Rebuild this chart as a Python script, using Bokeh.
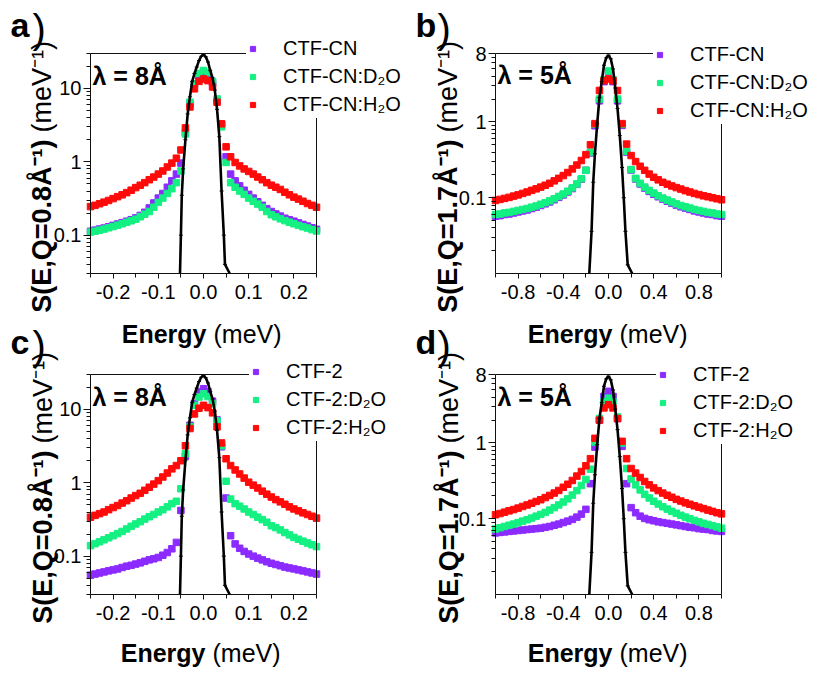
from math import pi, log10
from bokeh.plotting import figure
from bokeh.models import (Range1d, FixedTicker, LinearAxis, LogAxis, Label, Legend, LegendItem,
                          NumeralTickFormatter, BasicTickFormatter)
from bokeh.layouts import column, row
from bokeh.embed import file_html
from bokeh.resources import INLINE

FONT = "Liberation Sans"
PURPLE = "#8C2BFF"
GREEN = "#14F082"
RED = "#FF0A0A"

# ---------------- data ----------------
E_A = [-0.25, -0.24, -0.23, -0.22, -0.21, -0.20, -0.19, -0.18, -0.17, -0.16, -0.15, -0.14, -0.13,
       -0.12, -0.11, -0.10, -0.09, -0.08, -0.07, -0.06, -0.05, -0.04, -0.03, -0.02, -0.01, 0.00,
       0.01, 0.02, 0.03, 0.04, 0.05, 0.06, 0.07, 0.08, 0.09, 0.10, 0.11, 0.12, 0.13, 0.14, 0.15,
       0.16, 0.17, 0.18, 0.19, 0.20, 0.21, 0.22, 0.23, 0.24, 0.25]
E_B = [-1.00, -0.96, -0.92, -0.88, -0.84, -0.80, -0.76, -0.72, -0.68, -0.64, -0.60, -0.56, -0.52,
       -0.48, -0.44, -0.40, -0.36, -0.32, -0.28, -0.24, -0.20, -0.16, -0.12, -0.08, -0.04, 0.00,
       0.04, 0.08, 0.12, 0.16, 0.20, 0.24, 0.28, 0.32, 0.36, 0.40, 0.44, 0.48, 0.52, 0.56, 0.60,
       0.64, 0.68, 0.72, 0.76, 0.80, 0.84, 0.88, 0.92, 0.96, 1.00]

# panel a: CTF-CN, lambda = 8 A, Q = 0.8
CN_A = [0.113, 0.117, 0.121, 0.125, 0.130, 0.136, 0.142, 0.148, 0.155, 0.162, 0.172, 0.186, 0.205,
        0.235, 0.275, 0.32, 0.37, 0.45, 0.55, 0.68, 0.96, 2.5, 6.2, 11.6, 15.0, 16.7,
        15.5, 12.0, 6.8, 3.2, 1.17, 0.68, 0.55, 0.47, 0.41, 0.36, 0.32, 0.285, 0.255, 0.23, 0.21,
        0.195, 0.182, 0.17, 0.162, 0.155, 0.147, 0.14, 0.133, 0.126, 0.12]
CN_D2O_A = [0.110, 0.113, 0.117, 0.121, 0.126, 0.131, 0.137, 0.143, 0.150, 0.157, 0.165, 0.178, 0.193,
            0.21, 0.24, 0.28, 0.32, 0.37, 0.43, 0.52, 0.75, 2.4, 6.5, 11.5, 16.0, 17.6,
            16.5, 12.5, 7.2, 3.0, 0.98, 0.52, 0.45, 0.40, 0.36, 0.32, 0.29, 0.265, 0.24, 0.21, 0.19,
            0.178, 0.167, 0.158, 0.150, 0.143, 0.136, 0.130, 0.125, 0.119, 0.114]
CN_H2O_A = [0.245, 0.255, 0.268, 0.282, 0.297, 0.315, 0.335, 0.355, 0.38, 0.41, 0.445, 0.48, 0.52,
            0.57, 0.62, 0.68, 0.75, 0.85, 0.96, 1.12, 1.45, 2.9, 5.6, 9.9, 12.5, 13.5,
            12.8, 10.5, 6.5, 3.3, 1.6, 1.17, 0.98, 0.88, 0.80, 0.74, 0.68, 0.62, 0.57, 0.52, 0.48,
            0.45, 0.42, 0.385, 0.355, 0.33, 0.31, 0.29, 0.27, 0.255, 0.24]

# panel b: CTF-CN, lambda = 5 A, Q = 1.7
CN_B = [0.057, 0.058, 0.060, 0.061, 0.063, 0.065, 0.067, 0.069, 0.072, 0.075, 0.079, 0.083, 0.088,
        0.094, 0.101, 0.109, 0.119, 0.132, 0.150, 0.176, 0.23, 0.39, 0.89, 1.9, 3.4, 4.6,
        3.4, 1.9, 0.9, 0.40, 0.232, 0.177, 0.152, 0.134, 0.121, 0.111, 0.103, 0.096, 0.090, 0.085, 0.080,
        0.076, 0.073, 0.070, 0.067, 0.065, 0.063, 0.061, 0.060, 0.058, 0.057]
CN_D2O_B = [0.060, 0.061, 0.063, 0.064, 0.066, 0.068, 0.070, 0.072, 0.075, 0.078, 0.082, 0.086, 0.091,
            0.097, 0.104, 0.112, 0.122, 0.135, 0.152, 0.178, 0.23, 0.40, 0.93, 2.0, 3.6, 4.7,
            3.6, 2.0, 0.93, 0.41, 0.235, 0.18, 0.155, 0.138, 0.125, 0.115, 0.106, 0.099, 0.093, 0.088, 0.083,
            0.079, 0.076, 0.073, 0.070, 0.068, 0.066, 0.064, 0.063, 0.061, 0.060]
CN_H2O_B = [0.092, 0.095, 0.098, 0.101, 0.105, 0.109, 0.114, 0.119, 0.125, 0.131, 0.138, 0.146, 0.155,
            0.167, 0.180, 0.196, 0.215, 0.24, 0.27, 0.31, 0.37, 0.50, 0.95, 2.6, 3.5, 3.7,
            3.5, 2.6, 0.95, 0.51, 0.36, 0.30, 0.26, 0.23, 0.205, 0.186, 0.172, 0.160, 0.151, 0.143, 0.136,
            0.130, 0.124, 0.119, 0.114, 0.110, 0.106, 0.103, 0.100, 0.097, 0.094]

# panel c: CTF-2, lambda = 8 A, Q = 0.8
C2_C = [0.055, 0.057, 0.059, 0.061, 0.063, 0.065, 0.067, 0.070, 0.073, 0.075, 0.078, 0.081, 0.085,
        0.089, 0.092, 0.096, 0.103, 0.112, 0.126, 0.154, 0.42, 2.3, 6.1, 12.0, 17.3, 19.2,
        17.5, 13.0, 7.2, 3.1, 0.62, 0.19, 0.147, 0.128, 0.116, 0.107, 0.100, 0.094, 0.089, 0.084, 0.080,
        0.077, 0.074, 0.071, 0.069, 0.067, 0.065, 0.063, 0.061, 0.059, 0.057]
C2_D2O_C = [0.139, 0.148, 0.157, 0.167, 0.178, 0.19, 0.203, 0.217, 0.235, 0.255, 0.275, 0.295, 0.32,
            0.345, 0.37, 0.40, 0.43, 0.47, 0.52, 0.56, 0.83, 2.5, 5.8, 11.4, 14.8, 16.4,
            15.0, 12.0, 7.0, 3.2, 1.05, 0.60, 0.52, 0.48, 0.44, 0.40, 0.37, 0.34, 0.315, 0.29, 0.26,
            0.245, 0.228, 0.21, 0.195, 0.18, 0.17, 0.16, 0.151, 0.143, 0.135]
C2_H2O_C = [0.34, 0.36, 0.38, 0.40, 0.43, 0.46, 0.49, 0.53, 0.57, 0.62, 0.67, 0.72, 0.79,
            0.87, 0.96, 1.07, 1.2, 1.36, 1.55, 1.72, 2.0, 3.2, 5.5, 8.7, 10.4, 11.4,
            10.6, 9.0, 5.8, 3.5, 2.13, 1.72, 1.5, 1.32, 1.16, 1.02, 0.93, 0.85, 0.77, 0.70, 0.64,
            0.59, 0.55, 0.51, 0.47, 0.44, 0.415, 0.39, 0.37, 0.35, 0.33]

# panel d: CTF-2, lambda = 5 A, Q = 1.7
C2_D = [0.065, 0.066, 0.067, 0.068, 0.069, 0.070, 0.071, 0.072, 0.073, 0.074, 0.075, 0.077, 0.079,
        0.082, 0.085, 0.089, 0.093, 0.098, 0.105, 0.115, 0.133, 0.29, 0.88, 2.0, 4.1, 4.8,
        4.1, 2.1, 0.9, 0.29, 0.14, 0.12, 0.108, 0.101, 0.097, 0.094, 0.091, 0.089, 0.087, 0.085, 0.083,
        0.081, 0.079, 0.077, 0.076, 0.074, 0.073, 0.072, 0.070, 0.069, 0.068]
C2_D2O_D = [0.073, 0.076, 0.079, 0.082, 0.085, 0.089, 0.093, 0.097, 0.102, 0.108, 0.114, 0.121, 0.130,
            0.140, 0.152, 0.166, 0.183, 0.205, 0.235, 0.275, 0.33, 0.45, 1.03, 2.1, 3.5, 3.9,
            3.5, 2.2, 1.0, 0.46, 0.335, 0.28, 0.24, 0.21, 0.188, 0.17, 0.156, 0.144, 0.134, 0.125, 0.118,
            0.111, 0.105, 0.100, 0.095, 0.091, 0.087, 0.084, 0.081, 0.078, 0.075]
C2_H2O_D = [0.113, 0.117, 0.122, 0.127, 0.132, 0.138, 0.145, 0.152, 0.160, 0.169, 0.178, 0.19, 0.203,
            0.218, 0.236, 0.26, 0.285, 0.32, 0.365, 0.42, 0.50, 0.62, 1.15, 2.0, 2.9, 3.2,
            2.9, 2.1, 1.05, 0.62, 0.46, 0.40, 0.35, 0.31, 0.28, 0.255, 0.235, 0.218, 0.204, 0.192, 0.18,
            0.171, 0.162, 0.155, 0.148, 0.142, 0.136, 0.130, 0.125, 0.120, 0.116]

# resolution functions (black lines)
RES_E_8 = [-0.052, -0.05, -0.048, -0.045, -0.04, -0.035, -0.03, -0.025, -0.02, -0.015, -0.01, -0.005,
           0.0, 0.005, 0.01, 0.015, 0.02, 0.025, 0.03, 0.035, 0.04, 0.045, 0.0475, 0.058]
RES_8 = [0.03, 0.10, 0.35, 0.8, 2.0, 4.5, 7.7, 12.5, 16.0, 19.6, 24.0, 27.5,
         29.0, 27.0, 23.0, 17.5, 14.0, 9.5, 5.2, 2.2, 0.4, 0.1, 0.04, 0.03]
RES_E_5 = [-0.17, -0.15, -0.135, -0.12, -0.10, -0.08, -0.06, -0.04, -0.02, 0.0,
           0.02, 0.04, 0.06, 0.08, 0.10, 0.12, 0.135, 0.15, 0.17, 0.21]
RES_5 = [0.01, 0.036, 0.16, 0.38, 0.95, 2.1, 3.4, 5.6, 7.0, 7.6,
         6.8, 5.0, 2.8, 1.5, 0.66, 0.25, 0.10, 0.036, 0.013, 0.01]

# axis limits and ticks
X_LIM_8 = (-0.25, 0.25)
X_LIM_5 = (-1.0, 1.0)
Y_LIM_8 = (0.03, 30)
Y_LIM_5 = (0.01, 8)
X_TICKS_8 = [-0.2, -0.1, 0.0, 0.1, 0.2]
X_MINOR_8 = [-0.25, -0.15, -0.05, 0.05, 0.15, 0.25]
X_TICKS_5 = [-0.8, -0.4, 0.0, 0.4, 0.8]
X_MINOR_5 = [-1.0, -0.6, -0.2, 0.2, 0.6, 1.0]
Y_TICKS_8 = [0.1, 1, 10]
Y_LABELS_8 = {0.1: "0.1", 1: "1", 10: "10"}
Y_MINOR_8 = [0.03, 0.04, 0.05, 0.06, 0.07, 0.08, 0.09, 0.2, 0.3, 0.4, 0.5, 0.6, 0.7, 0.8, 0.9,
             2, 3, 4, 5, 6, 7, 8, 9, 20, 30]
Y_TICKS_5 = [0.1, 1, 8]
Y_LABELS_5 = {0.1: "0.1", 1: "1", 8: "8"}
Y_MINOR_5 = [0.02, 0.03, 0.04, 0.05, 0.06, 0.07, 0.08, 0.09, 0.2, 0.3, 0.4, 0.5, 0.6, 0.7, 0.8, 0.9,
             2, 3, 4, 5, 6, 7]

TOP_H = 316
BOT_H = 673 - TOP_H
LINE = "#111111"
BASE_FIX = 0.29   # measured offset (in em) between requested and drawn baseline


def make_panel(W, H, rect, xlim, ylim, xt, xm, yt, ym, ylabels):
    """Figure whose frame fills the canvas; the box (rect, canvas px) holds the data limits."""
    left, top, right, bottom = rect
    kx = (xlim[1] - xlim[0]) / (right - left)
    x0 = xlim[0] - left * kx
    x1 = xlim[1] + (W - right) * kx
    ly0, ly1 = log10(ylim[0]), log10(ylim[1])
    ky = (ly1 - ly0) / (bottom - top)
    y1 = ly1 + top * ky
    y0 = ly0 - (H - bottom) * ky
    p = figure(width=W, height=H, x_range=Range1d(x0, x1), y_range=Range1d(10 ** y0, 10 ** y1),
               y_axis_type="log", x_axis_location=None, y_axis_location=None,
               output_backend="svg", toolbar_location=None, min_border=0,
               background_fill_color="white", border_fill_color="white")
    p.outline_line_color = None
    p.grid.visible = False

    xa = LinearAxis(fixed_location=ylim[0], bounds=xlim,
                    ticker=FixedTicker(ticks=xt, minor_ticks=xm),
                    formatter=NumeralTickFormatter(format="0.0"),
                    major_tick_out=5, minor_tick_out=4, major_label_standoff=6)
    ya = LogAxis(fixed_location=xlim[0], bounds=ylim,
                 ticker=FixedTicker(ticks=yt, minor_ticks=ym),
                 formatter=BasicTickFormatter(), major_label_overrides=ylabels,
                 major_tick_out=7, minor_tick_out=4, major_label_standoff=2)
    for ax in (xa, ya):
        ax.axis_line_color = LINE
        ax.major_tick_line_color = LINE
        ax.minor_tick_line_color = LINE
        ax.major_tick_in = 0
        ax.minor_tick_in = 0
        ax.major_label_text_font = FONT
        ax.major_label_text_font_size = "20px"
        ax.major_label_text_color = "black"
    p.add_layout(xa, "below")
    p.add_layout(ya, "left")
    p.add_layout(LinearAxis(fixed_location=ylim[1], bounds=xlim, ticker=FixedTicker(ticks=[]),
                            axis_line_color=LINE, major_tick_line_color=None,
                            minor_tick_line_color=None), "above")
    p.add_layout(LinearAxis(fixed_location=xlim[1], bounds=ylim, ticker=FixedTicker(ticks=[]),
                            axis_line_color=LINE, major_tick_line_color=None,
                            minor_tick_line_color=None), "right")
    return p


def add_data(p, E, series, names, res_e, res, legend_xy):
    rends = []
    for vals, col in zip(series, (PURPLE, GREEN, RED)):
        rends.append(p.scatter(E, vals, marker="square", size=6.5, fill_color=col, line_color=col))
    p.line(res_e, res, line_color="black", line_width=2.6)
    p.scatter(res_e, res, marker="dash", size=4, line_color="black", line_width=1)
    legend = Legend(items=[LegendItem(label=n, renderers=[r]) for n, r in zip(names, rends)],
                    location=legend_xy, padding=13, spacing=0, margin=0,
                    glyph_width=13, glyph_height=13, label_height=28, label_standoff=24,
                    label_text_font=FONT, label_text_font_size="20px", label_text_color="black",
                    background_fill_color="white", background_fill_alpha=1.0,
                    border_line_color=None)
    p.add_layout(legend)


def text(p, H, x, y, s, size, bold=False, align="left", angle=0.0):
    # x, y: canvas pixels from the top-left of this figure (y = baseline; for vertical text x = baseline)
    px = float(size.replace("px", ""))
    if angle == 0.0:
        y = y - BASE_FIX * px
    else:
        x = x - BASE_FIX * px
    p.add_layout(Label(x=x, y=H - y, x_units="screen", y_units="screen", text=s, angle=angle,
                       text_align=align, text_baseline="alphabetic", text_font=FONT,
                       text_font_size=size, text_font_style="bold" if bold else "normal",
                       text_color="black"))


def ylabel(p, H, x, y, q):
    text(p, H, x, y, "S(E,Q=" + q + "\u00c5\u207b\u00b9)", "27px", True, "right", pi / 2)
    text(p, H, x, y - 7, "(meV\u207b\u00b9)", "27px", False, "left", pi / 2)


def xlabel(p, H, x, y):
    text(p, H, x, y, "Energy", "25px", True, "right")
    text(p, H, x + 7, y, "(meV)", "25px", False, "left")


def letter(p, H, x, y, s):
    text(p, H, x, y, s, "34px", True)
    text(p, H, x + 22, y + 6, ")", "40px", False)


RECT_L_TOP = (90, 53, 316, 273)
RECT_R_TOP = (87, 53, 313, 273)
RECT_L_BOT = (90, 58, 316, 278)
RECT_R_BOT = (87, 58, 313, 278)

pa = make_panel(408, TOP_H, RECT_L_TOP, X_LIM_8, Y_LIM_8, X_TICKS_8, X_MINOR_8, Y_TICKS_8, Y_MINOR_8, Y_LABELS_8)
pb = make_panel(409, TOP_H, RECT_R_TOP, X_LIM_5, Y_LIM_5, X_TICKS_5, X_MINOR_5, Y_TICKS_5, Y_MINOR_5, Y_LABELS_5)
pc = make_panel(408, BOT_H, RECT_L_BOT, X_LIM_8, Y_LIM_8, X_TICKS_8, X_MINOR_8, Y_TICKS_8, Y_MINOR_8, Y_LABELS_8)
pd = make_panel(409, BOT_H, RECT_R_BOT, X_LIM_5, Y_LIM_5, X_TICKS_5, X_MINOR_5, Y_TICKS_5, Y_MINOR_5, Y_LABELS_5)

add_data(pa, E_A, [CN_A, CN_D2O_A, CN_H2O_A], ["CTF-CN", "CTF-CN:D\u2082O", "CTF-CN:H\u2082O"],
         RES_E_8, RES_8, (246, TOP_H - 118))
add_data(pb, E_B, [CN_B, CN_D2O_B, CN_H2O_B], ["CTF-CN", "CTF-CN:D\u2082O", "CTF-CN:H\u2082O"],
         RES_E_5, RES_5, (245, TOP_H - 124))
add_data(pc, E_A, [C2_C, C2_D2O_C, C2_H2O_C], ["CTF-2", "CTF-2:D\u2082O", "CTF-2:H\u2082O"],
         RES_E_8, RES_8, (249, BOT_H - 125))
add_data(pd, E_B, [C2_D, C2_D2O_D, C2_H2O_D], ["CTF-2", "CTF-2:D\u2082O", "CTF-2:H\u2082O"],
         RES_E_5, RES_5, (248, BOT_H - 128))

# lambda labels
text(pa, TOP_H, 92, 83, "\u03bb = 8\u00c5", "25px", True)
text(pb, TOP_H, 89, 82, "\u03bb = 5\u00c5", "25px", True)
text(pc, BOT_H, 92, 88, "\u03bb = 8\u00c5", "25px", True)
text(pd, BOT_H, 89, 88, "\u03bb = 5\u00c5", "25px", True)

# y-axis titles
ylabel(pa, TOP_H, 49, 139, "0.8")
ylabel(pb, TOP_H, 47, 139, "1.7")
ylabel(pc, BOT_H, 50, 134, "0.8")
ylabel(pd, BOT_H, 48, 134, "1.7")

# x-axis titles (upper panels' titles sit on the lower canvases, at the same page position)
xlabel(pc, BOT_H, 206, 25)
xlabel(pd, BOT_H, 204, 25)
xlabel(pc, BOT_H, 205, 344)
xlabel(pd, BOT_H, 204, 344)

# panel letters
letter(pa, TOP_H, 10, 34, "a")
letter(pb, TOP_H, 7, 34, "b")
letter(pc, BOT_H, 10, 35, "c")
letter(pd, BOT_H, 7, 35, "d")

layout = column(row(pa, pb), row(pc, pd))
open("out.html", "w").write(file_html(layout, INLINE))
